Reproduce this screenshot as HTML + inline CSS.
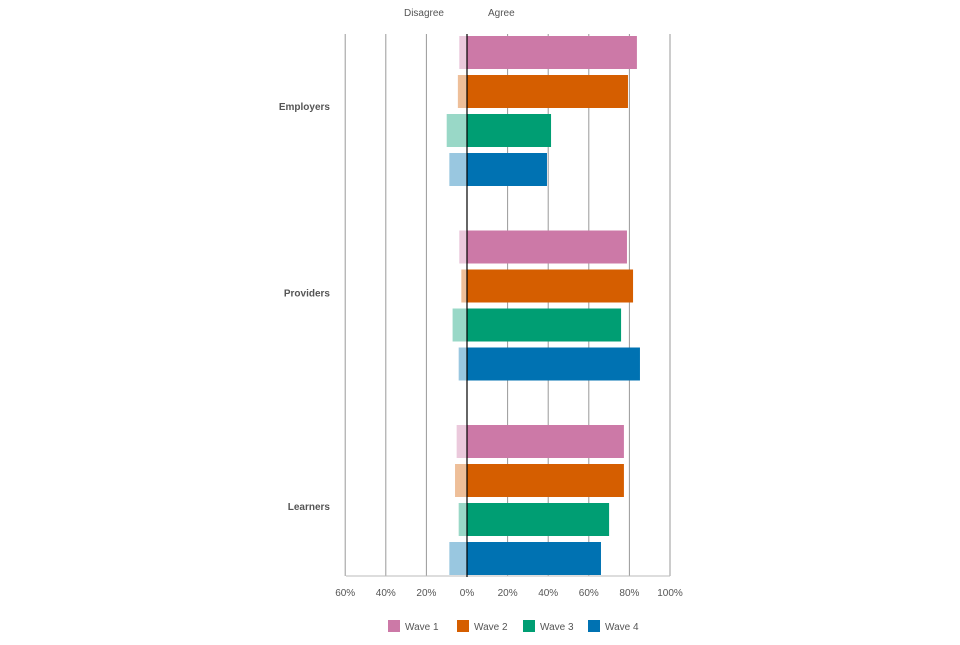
<!DOCTYPE html>
<html><head><meta charset="utf-8"><style>
body{margin:0;background:#fff;font-family:"Liberation Sans",sans-serif}
</style></head><body>
<svg id="c" width="960" height="640" xmlns="http://www.w3.org/2000/svg"></svg>
<script>
const categories=["Employers","Providers","Learners"];
const waves=["Wave 1","Wave 2","Wave 3","Wave 4"];
const agree=[[83.7,79.3,41.4,39.4],[78.8,81.8,75.9,85.2],[77.3,77.3,70,66]];
const disagree=[[3.8,4.5,10,8.7],[3.8,2.8,7.1,4.1],[5.1,5.9,4.1,8.7]];
const ticks=[-60,-40,-20,0,20,40,60,80,100];
const tickLabels=["60%","40%","20%","0%","20%","40%","60%","80%","100%"];
const colors=["#cc79a7","#d55e00","#009e73","#0072b2"];
const labelOffset=[74,66,85];
const NS="http://www.w3.org/2000/svg";
const svg=document.getElementById('c');
const x=v=>467+v*2.03;
const groupTop=i=>36+i*194.5;
function el(t,a,txt){const e=document.createElementNS(NS,t);for(const k in a)e.setAttribute(k,a[k]);if(txt!=null)e.textContent=txt;svg.appendChild(e);return e;}
ticks.forEach((t,i)=>{
  if(t!==0){const g=el('line',{x1:x(t),x2:x(t),y1:34,y2:576,stroke:'#999','stroke-width':1});
  
  }
  const l=el('text',{x:x(t),y:596,'font-size':10,fill:'#555','text-anchor':'middle'},tickLabels[i]);
  
  
});
const ax=el('line',{x1:346,x2:670,y1:576,y2:576,stroke:'#bbb','stroke-width':1});


categories.forEach((c,i)=>{
  const top=groupTop(i);
  const t=el('text',{x:330,y:top+labelOffset[i],'font-size':10,'font-weight':'bold',fill:'#555','text-anchor':'end'},c);
  
  
  waves.forEach((w,j)=>{
    const y=top+j*39;
    const d=el('rect',{x:x(-disagree[i][j]),y:y,width:x(0)-x(-disagree[i][j]),height:33,fill:colors[j],'fill-opacity':0.4});
    
    
    const a=el('rect',{x:x(0),y:y,width:x(agree[i][j])-x(0),height:33,fill:colors[j]});
    
    
  });
});
const z=el('line',{x1:467,x2:467,y1:34,y2:577,stroke:'#000','stroke-width':1.2});


const h1=el('text',{x:444,y:16,'font-size':10,fill:'#555','text-anchor':'end'},'Disagree');


const h2=el('text',{x:488,y:16,'font-size':10,fill:'#555'},'Agree');


const lx=[388,457,523,588];
waves.forEach((w,j)=>{
  const r=el('rect',{x:lx[j],y:620,width:12,height:12,fill:colors[j]});
  
  
  const t=el('text',{x:lx[j]+17,y:630,'font-size':10,fill:'#555'},w);
  
  
});
</script>
</body></html>
